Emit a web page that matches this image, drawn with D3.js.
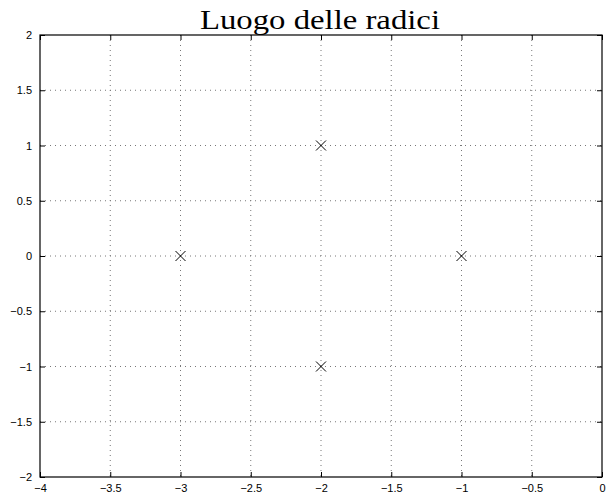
<!DOCTYPE html>
<html>
<head>
<meta charset="utf-8">
<script src="https://cdn.jsdelivr.net/npm/d3@7"></script>
<style>
  body { margin: 0; background: #fff; }
  svg { display: block; }
</style>
</head>
<body>
<div id="vis"></div>
<script>
const poleRe = [-2, -2, -3, -1];
const poleIm = [1, -1, 0, 0];
const xTicks = [-4, -3.5, -3, -2.5, -2, -1.5, -1, -0.5, 0];
const yTicks = [-2, -1.5, -1, -0.5, 0, 0.5, 1, 1.5, 2];

const W = 615, H = 499;
const margin = {top: 35, right: 13, bottom: 22, left: 40};
const width = W - margin.left - margin.right;
const height = H - margin.top - margin.bottom;

const svg = d3.select('#vis').append('svg')
  .attr('width', W)
  .attr('height', H);

const g = svg.append('g')
  .attr('transform', `translate(${margin.left},${margin.top})`);

const x = d3.scaleLinear().domain([-4, 0]).range([0, width]);
const y = d3.scaleLinear().domain([-2, 2]).range([height, 0]);

const fmt = d => (d < 0 ? '\u2212' + Math.abs(d) : String(d));

// grid
g.append('g').selectAll('line')
  .data(xTicks.slice(1, -1))
  .join('line')
    .attr('x1', d => x(d)).attr('x2', d => x(d))
    .attr('y1', 0).attr('y2', height)
    .attr('stroke', '#777').attr('stroke-width', 1)
    .attr('stroke-dasharray', '1,4');
g.append('g').selectAll('line')
  .data(yTicks.slice(1, -1))
  .join('line')
    .attr('y1', d => y(d)).attr('y2', d => y(d))
    .attr('x1', 0).attr('x2', width)
    .attr('stroke', '#777').attr('stroke-width', 1)
    .attr('stroke-dasharray', '1,4');

// axes, ticks inside
const axStyle = sel => {
  sel.select('.domain').remove();
  sel.selectAll('.tick line').attr('stroke', '#000');
  sel.selectAll('text').attr('font-family', 'Liberation Sans, Arial, sans-serif').attr('font-size', 11).attr('fill', '#000');
};
g.append('g').attr('transform', `translate(0,${height})`)
  .call(d3.axisBottom(x).tickValues(xTicks).tickFormat(fmt).tickSizeInner(-5).tickPadding(7))
  .call(axStyle);
g.append('g')
  .call(d3.axisLeft(y).tickValues(yTicks).tickFormat(fmt).tickSizeInner(-5).tickPadding(8))
  .call(axStyle);
g.append('g')
  .call(d3.axisTop(x).tickValues(xTicks).tickFormat('').tickSizeInner(-5))
  .call(axStyle);
g.append('g').attr('transform', `translate(${width},0)`)
  .call(d3.axisRight(y).tickValues(yTicks).tickFormat('').tickSizeInner(-5))
  .call(axStyle);

g.append('rect')
  .attr('width', width).attr('height', height)
  .attr('fill', 'none').attr('stroke', '#000').attr('stroke-width', 1.2);

// poles
const s = 5;
g.append('g').selectAll('path')
  .data(poleRe.map((r, i) => ({re: r, im: poleIm[i]})))
  .join('path')
    .attr('d', d => {
      const cx = x(d.re), cy = y(d.im);
      return `M${cx - s},${cy - s}L${cx + s},${cy + s}M${cx - s},${cy + s}L${cx + s},${cy - s}`;
    })
    .attr('stroke', '#000').attr('stroke-width', 1).attr('fill', 'none');

const title = svg.append('text')
  .attr('x', 320).attr('y', 29)
  .attr('text-anchor', 'middle')
  .attr('font-family', 'Liberation Serif, Times New Roman, serif')
  .attr('font-size', 27)
  .text('Luogo delle radici');
// stretch to the reference title's width
const tw = title.node().getComputedTextLength();
title.attr('textLength', 240).attr('lengthAdjust', 'spacingAndGlyphs');
</script>
</body>
</html>
